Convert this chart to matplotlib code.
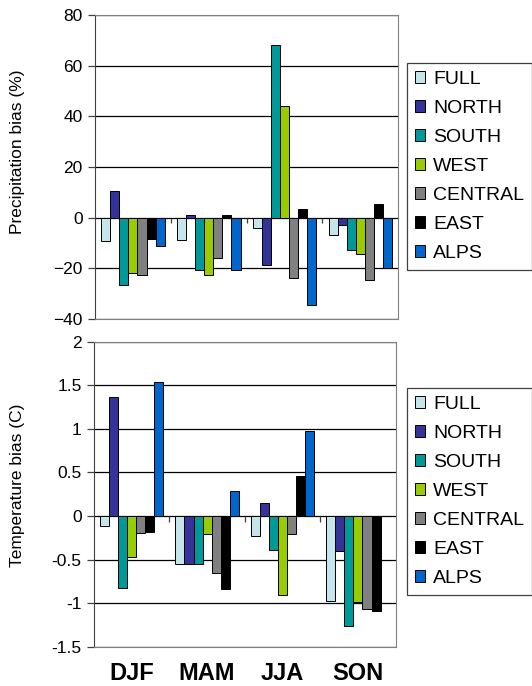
import matplotlib.pyplot as plt
import numpy as np

plt.rcParams["font.family"] = ["Liberation Sans", "DejaVu Sans"]

seasons = ["DJF", "MAM", "JJA", "SON"]
regions = ["FULL", "NORTH", "SOUTH", "WEST", "CENTRAL", "EAST", "ALPS"]
colors = ["#c4e6ea", "#333399", "#009999", "#99cc00", "#808080", "#000000", "#0066cc"]

# precipitation bias (%), one list per region, values for DJF, MAM, JJA, SON
precip = {
    "FULL": [-9.3, -8.9, -3.9, -7.0],
    "NORTH": [10.4, 0.9, -18.8, -3.0],
    "SOUTH": [-26.7, -20.8, 68.0, -12.9],
    "WEST": [-21.7, -22.8, 44.1, -14.5],
    "CENTRAL": [-22.8, -15.9, -23.8, -24.7],
    "EAST": [-8.3, 0.9, 3.6, 5.5],
    "ALPS": [-11.3, -20.8, -34.6, -19.7],
}

# temperature bias (C)
temp = {
    "FULL": [-0.12, -0.55, -0.23, -0.97],
    "NORTH": [1.37, -0.55, 0.15, -0.40],
    "SOUTH": [-0.83, -0.55, -0.39, -1.26],
    "WEST": [-0.47, -0.21, -0.91, -0.99],
    "CENTRAL": [-0.19, -0.65, -0.21, -1.07],
    "EAST": [-0.18, -0.84, 0.46, -1.09],
    "ALPS": [1.54, 0.29, 0.98, 0.0],
}

fig = plt.figure(figsize=(5.32, 6.86), dpi=100)
ax1 = fig.add_axes([0.1786, 0.535, 0.570, 0.443])
ax2 = fig.add_axes([0.1767, 0.0573, 0.567, 0.4446])

x = np.arange(len(seasons))
w = 0.12


def draw(ax, data, ylim, yticks, ylabel, tick_len, label_y):
    for j, name in enumerate(regions):
        ax.bar(x + (j - 3) * w, data[name], w, color=colors[j],
               edgecolor="black", linewidth=0.7, label=name, zorder=3)
    ax.set_xlim(-0.5, len(seasons) - 0.5)
    ax.set_ylim(*ylim)
    ax.set_yticks(yticks)
    ax.yaxis.grid(True, color="black", linewidth=0.9, zorder=0)
    ax.set_axisbelow(True)
    for s in ["top", "right", "bottom"]:
        ax.spines[s].set_color("#808080")
    ax.spines["left"].set_color("#404040")
    ax.tick_params(axis="y", direction="out", length=5, width=0.9,
                   color="#404040", labelsize=12.5, pad=4)
    ax.set_ylabel(ylabel, fontsize=12.5)
    ax.yaxis.set_label_coords(-0.23, label_y)
    # category separators on the zero line
    ax.vlines(x[:-1] + 0.5, 0, -tick_len, color="#404040", linewidth=0.9, zorder=2)


draw(ax1, precip, (-40, 80), np.arange(-40, 81, 20), "Precipitation bias (%)", 1.9, 0.549)
ax1.set_xticks([])

draw(ax2, temp, (-1.5, 2), np.arange(-1.5, 2.01, 0.5), "Temperature bias (C)", 0.065, 0.53)
ax2.set_yticklabels(["-1.5", "-1", "-0.5", "0", "0.5", "1", "1.5", "2"])
ax2.set_xticks(x)
ax2.set_xticklabels(seasons, fontsize=17, fontweight="bold")
ax2.tick_params(axis="x", length=0, pad=11)

for ax, top in [(ax1, 1 - 63 / 686), (ax2, 1 - 388 / 686)]:
    leg = fig.legend(*ax.get_legend_handles_labels(), loc="upper left",
                     bbox_to_anchor=(407 / 532, top), fontsize=14,
                     frameon=True, fancybox=False, framealpha=1,
                     edgecolor="#404040", handlelength=0.55, handleheight=0.55,
                     handletextpad=0.4, labelspacing=0.62, borderpad=0.4,
                     borderaxespad=0)
    leg.get_frame().set_linewidth(0.9)

fig.savefig("out.png", dpi=100)
